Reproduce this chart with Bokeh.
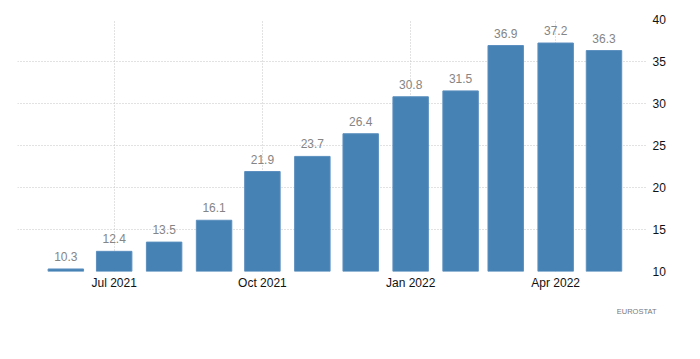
from datetime import datetime
from bokeh.plotting import figure
from bokeh.models import (ColumnDataSource, Range1d, LinearAxis, FixedTicker,
                          DatetimeTickFormatter, Title)
from bokeh.core.properties import value
from bokeh.embed import file_html
from bokeh.resources import INLINE

months = ["2021-06", "2021-07", "2021-08", "2021-09", "2021-10", "2021-11",
          "2021-12", "2022-01", "2022-02", "2022-03", "2022-04", "2022-05"]
values = [10.3, 12.4, 13.5, 16.1, 21.9, 23.7, 26.4, 30.8, 31.5, 36.9, 37.2, 36.3]
tick_months = ["2021-07", "2021-10", "2022-01", "2022-04"]
y_ticks = [10, 15, 20, 25, 30, 35, 40]
source_note = "EUROSTAT"

def to_dt(s):
    y, m = s.split("-")
    return datetime(int(y), int(m), 1)

dates = [to_dt(m) for m in months]
labels = ["%.1f" % v for v in values]
src = ColumnDataSource(dict(x=dates, top=values, label=labels))

DAY = 86400000
FONT = "Liberation Sans"

p = figure(x_axis_type="datetime", y_axis_location=None,
           frame_width=630, frame_height=252,
           x_range=Range1d(datetime(2021, 5, 2), datetime(2022, 5, 28)),
           y_range=Range1d(10, 40),
           output_backend="svg", toolbar_location=None,
           min_border_left=17, min_border_top=19, min_border_right=20,
           min_border_bottom=40)
p.outline_line_color = None
p.background_fill_color = "white"

p.vbar(x="x", top="top", bottom=10, width=22 * DAY, source=src,
       fill_color="#4682b4", line_color="#5b8fbf", line_width=1)
p.text(x="x", y="top", text="label", source=src, text_align="center",
       text_baseline="bottom", y_offset=-8, text_font=value(FONT),
       text_font_size="12px", text_color="#858585")

yaxis = LinearAxis(ticker=FixedTicker(ticks=y_ticks))
yaxis.axis_line_color = None
yaxis.major_tick_line_color = None
yaxis.minor_tick_line_color = None
yaxis.major_tick_out = 0
yaxis.major_tick_in = 0
yaxis.major_label_standoff = 5
yaxis.major_label_text_font = FONT
yaxis.major_label_text_font_size = "12px"
yaxis.major_label_text_color = "#111111"
p.add_layout(yaxis, "right")

xt = [to_dt(m).timestamp() * 1000 for m in tick_months]
p.xaxis.ticker = FixedTicker(ticks=xt)
p.xaxis.formatter = DatetimeTickFormatter(months="%b %Y", days="%b %Y",
                                          years="%b %Y")
p.xaxis.axis_line_color = None
p.xaxis.major_tick_line_color = None
p.xaxis.minor_tick_line_color = None
p.xaxis.major_tick_out = 0
p.xaxis.major_tick_in = 0
p.xaxis.major_label_standoff = 4
p.xaxis.major_label_text_font = FONT
p.xaxis.major_label_text_font_size = "12px"
p.xaxis.major_label_text_color = "#111111"

p.xgrid.ticker = FixedTicker(ticks=xt)
p.ygrid.ticker = FixedTicker(ticks=y_ticks)
for g in (p.xgrid, p.ygrid):
    g.grid_line_color = "#c4c4c4"
    g.grid_line_dash = "1 2"
    g.grid_line_width = 1

p.add_layout(Title(text=source_note, align="right", text_font=FONT,
                   text_font_size="7.5px", text_color="#7a7a7a",
                   text_font_style="normal", standoff=24, offset=-9), "below")

open("out.html", "w").write(file_html(p, INLINE))
